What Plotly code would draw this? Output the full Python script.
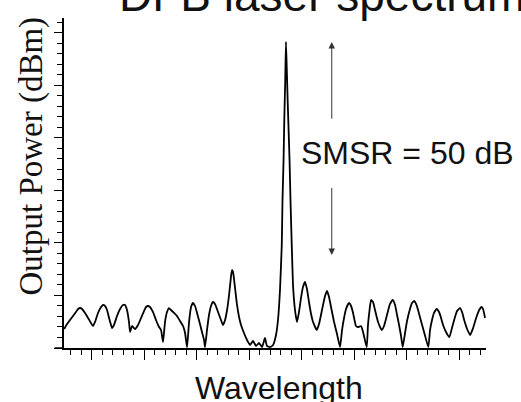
import plotly.graph_objects as go

# Wavelength (arbitrary units, one minor tick = 1) and output power (dBm)
wavelength = [
    -2.62, -2.35, -2.07, -1.78, -1.50, -1.30, -1.11, -0.92, -0.64, -0.35, -0.07, 0.12,
    0.31, 0.60, 0.89, 1.08, 1.27, 1.46, 1.65, 1.84, 1.93,
    2.12, 2.41, 2.70, 2.98, 3.17, 3.36, 3.55, 3.65,
    3.84, 4.12, 4.41, 4.70, 4.98, 5.17, 5.36, 5.55, 5.84, 6.12, 6.41, 6.60, 6.79,
    6.98, 7.17, 7.36, 7.55, 7.84, 8.12, 8.41, 8.70, 8.89, 9.08,
    9.27, 9.46, 9.65, 9.84, 10.03, 10.31, 10.50, 10.70, 10.79,
    10.98, 11.17, 11.36, 11.55, 11.74, 12.03, 12.31, 12.50,
    12.70, 12.89, 13.08, 13.27, 13.36, 13.46, 13.65, 13.84, 14.03, 14.22, 14.50, 14.79,
    15.08, 15.36, 15.65, 15.93, 16.22, 16.50, 16.69, 16.98, 17.27, 17.55, 17.74, 17.93,
    18.10, 18.17, 18.27, 18.34, 18.43, 18.50, 18.58, 18.66, 18.72, 18.84, 18.93, 19.05, 19.17, 19.36, 19.55,
    19.74, 19.93, 20.12, 20.31, 20.50, 20.69, 20.89, 21.08, 21.43,
    21.65, 21.93, 22.22, 22.41, 22.60, 22.79, 23.08, 23.36, 23.65,
    23.84, 24.03, 24.22, 24.50, 24.70, 24.89, 25.17, 25.36, 25.65, 25.84, 26.19,
    26.31, 26.46, 26.60, 26.79, 26.98, 27.27, 27.62,
    27.84, 28.12, 28.41, 28.67, 28.89, 29.08, 29.27, 29.46, 29.62,
    29.84, 30.03, 30.31, 30.50, 30.72, 30.89, 31.08, 31.36, 31.65, 32.06,
    32.22, 32.41, 32.60, 32.86, 33.08, 33.27, 33.46, 33.74, 34.06,
    34.31, 34.60, 34.79, 35.08, 35.27, 35.47, 35.75, 36.04,
    36.32, 36.61, 36.90, 37.14, 37.27, 37.46,
]
power_dbm = [
    -67.98, -66.79, -65.84, -64.89, -63.94, -63.22, -62.99, -63.22, -64.17, -65.36, -66.55, -67.27,
    -66.32, -64.17, -62.75, -62.27, -62.51, -63.46, -65.36, -67.03, -67.74,
    -67.03, -64.89, -63.22, -62.27, -62.27, -63.46, -66.32, -68.69,
    -67.27, -67.98, -67.03, -65.36, -63.70, -62.75, -62.51, -62.75, -63.94, -65.84, -67.50, -68.22, -71.07,
    -66.32, -63.94, -62.99, -63.46, -64.17, -64.89, -66.08, -67.27, -68.93, -72.30,
    -66.32, -62.75, -61.80, -62.51, -64.17, -66.79, -68.69, -70.60, -72.30,
    -68.22, -64.65, -62.51, -61.56, -62.03, -63.94, -65.84, -67.03,
    -65.84, -63.46, -59.89, -55.37, -53.95, -54.42, -58.23, -62.27, -65.13, -67.03, -68.93, -70.60,
    -71.79, -70.83, -72.02, -71.31, -72.26, -70.12, -72.02, -72.26, -71.79, -69.41, -65.84, -58.70,
    -48.00, -37.30, -27.78, -18.27, -8.75, 0.30, -6.37, -13.51, -18.27, -27.78, -37.30, -48.00, -57.51, -63.46, -66.32,
    -63.94, -60.61, -57.99, -56.80, -58.47, -61.56, -64.41, -66.32, -68.22,
    -66.79, -63.46, -60.13, -58.94, -60.37, -62.75, -66.32, -69.17, -72.26,
    -68.22, -65.36, -63.22, -61.80, -62.51, -64.17, -67.27, -67.50, -67.27, -68.69, -72.30,
    -67.03, -63.46, -61.08, -61.56, -63.46, -66.32, -68.22,
    -67.27, -64.65, -62.03, -61.08, -62.27, -64.65, -67.03, -69.65, -72.26,
    -68.93, -66.08, -63.22, -61.80, -61.32, -62.03, -63.46, -66.08, -68.69, -72.26,
    -68.22, -65.84, -64.17, -63.22, -63.94, -65.36, -67.03, -68.69, -69.88,
    -67.74, -65.13, -63.70, -62.99, -63.94, -65.84, -67.98, -69.41,
    -67.74, -65.36, -63.46, -62.75, -63.22, -65.36,
]

smsr_x = 22.86
smsr_top = [0.3, -18.3]      # arrow tip, arrow tail
smsr_bottom = [-50.4, -34.1] # arrow tip, arrow tail

fig = go.Figure()
fig.add_trace(go.Scatter(x=wavelength, y=power_dbm, mode="lines",
                         line=dict(color="black", width=1.8, shape="spline", smoothing=0.45),
                         hoverinfo="skip", showlegend=False))

ann = []
for tip, tail in (smsr_top, smsr_bottom):
    ann.append(dict(x=smsr_x, y=tip, ax=smsr_x, ay=tail, xref="x", yref="y", axref="x", ayref="y",
                    text="", showarrow=True, arrowhead=2, arrowsize=1.3, arrowwidth=1, arrowcolor="#333"))
ann.append(dict(x=30.08, y=-26.0, xref="x", yref="y", text="SMSR = 50 dB", showarrow=False,
                xanchor="center", yanchor="middle",
                font=dict(family="Liberation Sans, Arial", size=32, color="#111")))
ann.append(dict(x=0.5095, y=-0.121, xref="paper", yref="paper", text="Wavelength", showarrow=False,
                xanchor="center", yanchor="middle",
                font=dict(family="Liberation Sans, Arial", size=32, color="#111")))
ann.append(dict(x=-0.076, y=0.583, xref="paper", yref="paper", text="Output Power (dBm)", showarrow=False,
                textangle=-90, xanchor="center", yanchor="middle",
                font=dict(family="Liberation Serif, Times New Roman", size=33, color="#111")))
ann.append(dict(x=0.125, y=1.071, xref="paper", yref="paper", text="DFB laser spectrum", showarrow=False,
                xanchor="left", yanchor="middle",
                font=dict(family="Liberation Sans, Arial", size=46, color="#111")))

fig.update_layout(
    width=521, height=402,
    margin=dict(l=64, r=35, t=18, b=54),
    paper_bgcolor="white", plot_bgcolor="white",
    annotations=ann,
    shapes=[dict(type="line", xref="paper", yref="paper", x0=-0.022, x1=0, y0=0, y1=0,
                 line=dict(color="black", width=1.5))],
    xaxis=dict(range=[-2.64, 37.55], showgrid=False, zeroline=False, showline=True,
               linecolor="black", linewidth=1.5, ticks="outside", ticklen=10, tickwidth=1.2,
               tickcolor="black", tick0=0, dtick=5, showticklabels=False,
               minor=dict(ticks="outside", ticklen=5, tickwidth=1.2, tickcolor="black", tick0=0, dtick=1)),
    yaxis=dict(range=[-72.5, 6], showgrid=False, zeroline=False, showline=True,
               linecolor="black", linewidth=1.5, ticks="outside", ticklen=8, tickwidth=1.2,
               tickcolor="black", tick0=-60, dtick=12.5, showticklabels=False,
               minor=dict(ticks="outside", ticklen=5, tickwidth=1.2, tickcolor="black", tick0=-72.5, dtick=2.5)),
)

fig.write_html("out.html", config={"displayModeBar": False},
               post_script="document.body.style.margin='0';document.body.style.overflow='hidden';")
